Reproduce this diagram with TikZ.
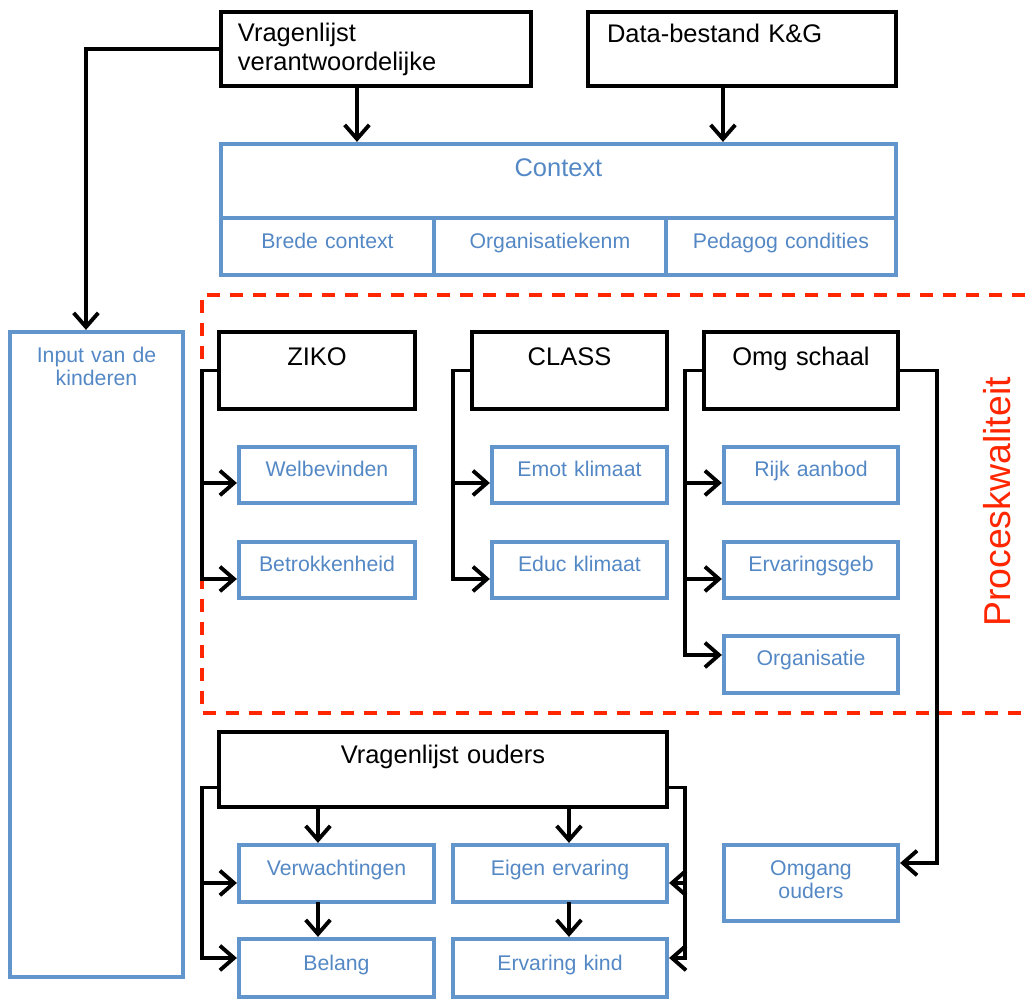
\documentclass[tikz,border=0pt]{standalone}
\usepackage{fontspec}
\setmainfont{Liberation Sans}
\usetikzlibrary{arrows.meta}
\definecolor{lijnblauw}{RGB}{99,149,205}
\definecolor{tekstblauw}{RGB}{84,136,197}
\definecolor{rood}{RGB}{255,38,0}
\tikzset{
    zwart/.style={draw=black, line width=2.3pt, inner sep=0pt, outer sep=0pt, align=center, font=\fontsize{14.5}{16}\selectfont},
    blauw/.style={draw=lijnblauw, line width=2.1pt, inner sep=0pt, outer sep=0pt, align=center, text=tekstblauw, font=\fontsize{12.1}{12.8}\selectfont},
    pijl/.style={-{Straight Barb[length=8pt,width=14pt]}, line width=2.2pt, shorten >=1.2pt},
    kader/.style={draw=rood, line width=1.9pt, dash pattern=on 0.26cm off 0.2cm},
}
\begin{document}
\begin{tikzpicture}[x=0.02cm, y=-0.02cm]
    \useasboundingbox (0,0) rectangle (1025,999);
    % bronnen
    \node [zwart, anchor=north west, inner xsep=0.34cm, text width=5.52cm, align=left, text height=0.6cm, text depth=0.88cm] (vv) at (221,12) {Vragenlijst\\verantwoordelijke};
    \node [zwart, anchor=north west, inner xsep=0.38cm, text width=5.4cm, align=left, text height=0.62cm, text depth=0.86cm] (data) at (588,12) {Data-bestand K\&G};
    % context
    \node [blauw, anchor=north west, text width=13.5cm, text height=0.66cm, text depth=0.82cm, font=\fontsize{14.5}{16}\selectfont] (ctx) at (221,144) {Context};
    \node [blauw, anchor=north west, text width=4.26cm, text height=0.62cm, text depth=0.52cm] (brede) at (ctx.south west) {Brede context};
    \node [blauw, anchor=north west, text width=4.64cm, text height=0.62cm, text depth=0.52cm] (orgk) at (brede.north east) {Organisatiekenm};
    \node [blauw, anchor=north west, text width=4.6cm, text height=0.62cm, text depth=0.52cm] (ped) at (orgk.north east) {Pedagog condities};
    \draw [pijl] ([xshift=-0.38cm]vv.south) -- ([xshift=-0.38cm]vv.south |- ctx.north);
    \draw [pijl] ([xshift=-0.38cm]data.south) -- ([xshift=-0.38cm]data.south |- ctx.north);
    % input kinderen
    \node [blauw, anchor=north west, text width=3.46cm, text height=0.62cm, text depth=12.28cm] (inp) at (10,332) {Input van de\\kinderen};
    \draw [pijl] (vv.west) -| ([xshift=-0.21cm]inp.north);
    % proceskwaliteit
    \draw [kader] (1025,295) -- (202,295) -- (202,713) -- (1025,713);
    \node [rotate=90, text=rood, font=\fontsize{21.3}{24}\selectfont] (pk) at (997,502) {Proceskwaliteit};
    \node [zwart, anchor=north west, text width=3.92cm, text height=0.68cm, text depth=0.86cm] (ziko) at (219,332) {ZIKO};
    \node [zwart, anchor=north west, text width=3.9cm, text height=0.68cm, text depth=0.86cm] (klas) at (472,332) {CLASS};
    \node [zwart, anchor=north west, text width=3.88cm, text height=0.68cm, text depth=0.86cm] (omg) at (704,332) {Omg schaal};
    \node [blauw, anchor=north west, text width=3.52cm, text height=0.6cm, text depth=0.52cm] (wel) at (239,447) {Welbevinden};
    \node [blauw, anchor=north west, text width=3.52cm, text height=0.6cm, text depth=0.52cm] (bet) at (239,542) {Betrokkenheid};
    \node [blauw, anchor=north west, text width=3.5cm, text height=0.6cm, text depth=0.52cm] (emo) at (492,447) {Emot klimaat};
    \node [blauw, anchor=north west, text width=3.5cm, text height=0.6cm, text depth=0.52cm] (edu) at (492,542) {Educ klimaat};
    \node [blauw, anchor=north west, text width=3.48cm, text height=0.6cm, text depth=0.52cm] (rijk) at (724,447) {Rijk aanbod};
    \node [blauw, anchor=north west, text width=3.48cm, text height=0.6cm, text depth=0.52cm] (erv) at (724,542) {Ervaringsgeb};
    \node [blauw, anchor=north west, text width=3.48cm, text height=0.6cm, text depth=0.54cm] (orgn) at (724,636) {Organisatie};
    \draw [pijl] (ziko.west) -- ++(-17,0) |- ([yshift=-0.16cm]wel.west);
    \draw [pijl] (ziko.west) -- ++(-17,0) |- ([yshift=-0.18cm]bet.west);
    \draw [pijl] (klas.west) -- ++(-19,0) |- ([yshift=-0.16cm]emo.west);
    \draw [pijl] (klas.west) -- ++(-19,0) |- ([yshift=-0.18cm]edu.west);
    \draw [pijl] (omg.west) -- ++(-19,0) |- ([yshift=-0.16cm]rijk.west);
    \draw [pijl] (omg.west) -- ++(-19,0) |- ([yshift=-0.18cm]erv.west);
    \draw [pijl] (omg.west) -- ++(-19,0) |- ([yshift=0.19cm]orgn.west);
    % ouders
    \node [zwart, anchor=north west, text width=8.96cm, text height=0.64cm, text depth=0.86cm] (ouders) at (219,732) {Vragenlijst ouders};
    \node [blauw, anchor=north west, text width=3.9cm, text height=0.62cm, text depth=0.52cm] (verw) at (239,845) {Verwachtingen};
    \node [blauw, anchor=north west, text width=4.28cm, text height=0.62cm, text depth=0.52cm] (eigen) at (453,845) {Eigen ervaring};
    \node [blauw, anchor=north west, text width=3.9cm, text height=0.64cm, text depth=0.52cm] (belang) at (239,939) {Belang};
    \node [blauw, anchor=north west, text width=4.28cm, text height=0.64cm, text depth=0.52cm] (kind) at (453,939) {Ervaring kind};
    \node [blauw, anchor=north west, text width=3.48cm, text height=0.62cm, text depth=0.9cm, font=\fontsize{12.1}{13}\selectfont] (omgo) at (724,845) {Omgang\\ouders};
    \draw [pijl] ([xshift=-0.37cm]verw.north |- ouders.south) -- ([xshift=-0.37cm]verw.north);
    \draw [pijl] ([xshift=0.18cm]eigen.north |- ouders.south) -- ([xshift=0.18cm]eigen.north);
    \draw [pijl] ([xshift=-0.37cm]verw.south) -- ([xshift=-0.37cm]belang.north);
    \draw [pijl] ([xshift=0.18cm]eigen.south) -- ([xshift=0.18cm]kind.north);
    \draw [pijl] ([yshift=-0.36cm]ouders.west) -- ++(-17,0) |- ([yshift=-0.19cm]verw.west);
    \draw [pijl] ([yshift=-0.36cm]ouders.west) -- ++(-17,0) |- ([yshift=0.2cm]belang.west);
    \draw [pijl] ([yshift=-0.36cm]ouders.east) -- ++(18,0) |- ([yshift=-0.19cm]eigen.east);
    \draw [pijl] ([yshift=-0.36cm]ouders.east) -- ++(18,0) |- ([yshift=0.2cm]kind.east);
    \draw [pijl] (omg.east) -- ++(39,0) |- ([yshift=0.4cm]omgo.east);
\end{tikzpicture}
\end{document}
